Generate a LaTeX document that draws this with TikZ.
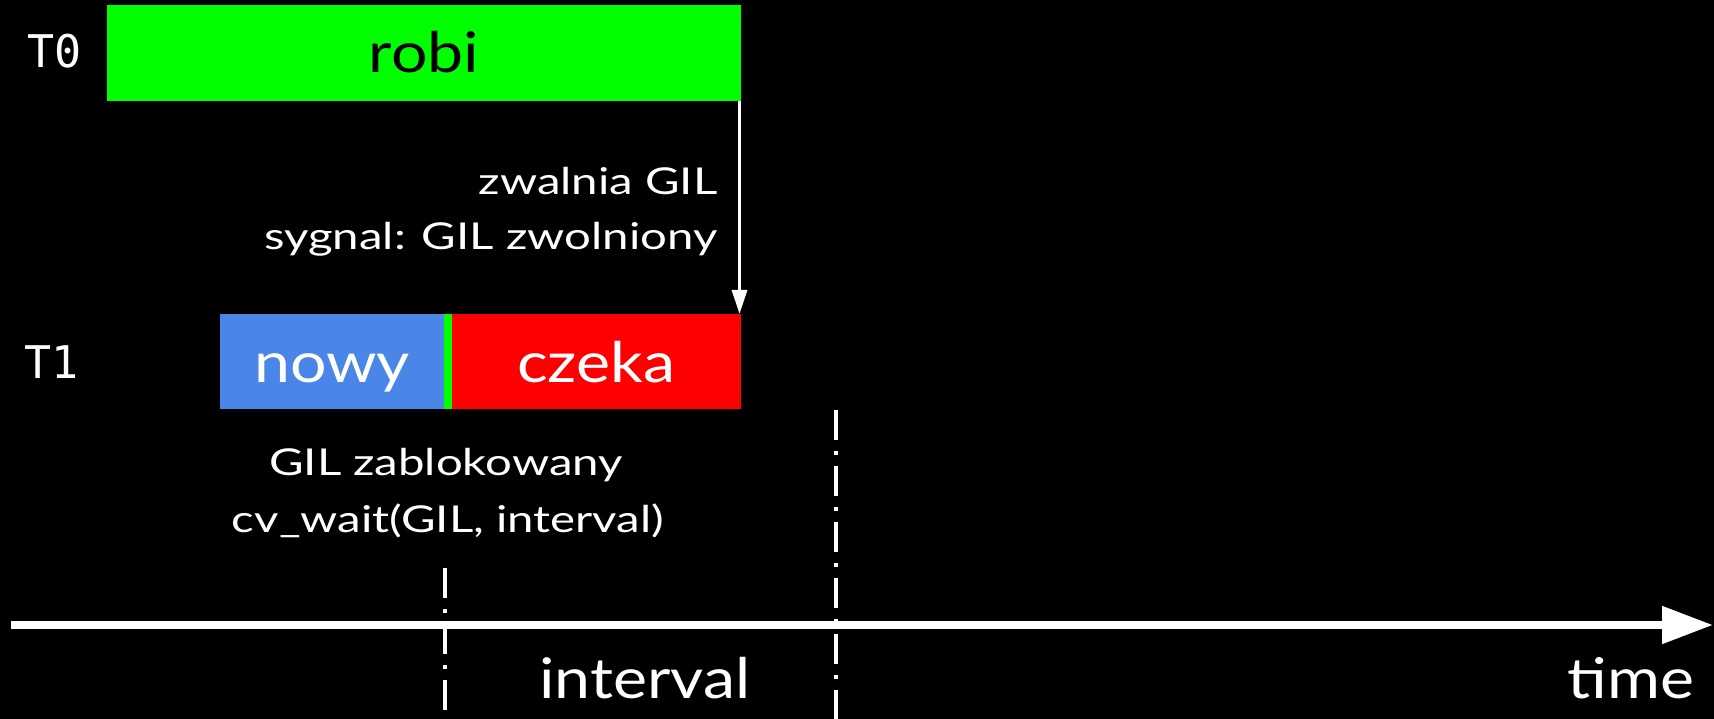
\documentclass[tikz,border=0pt]{standalone}
\usepackage{fontspec}
\setmainfont{Lato}[FakeStretch=1.15]
\newfontfamily\smallf{Lato}[FakeStretch=1.28]
\newfontfamily\monof{DejaVu Sans Mono}
\usetikzlibrary{arrows.meta}
\definecolor{gbox}{HTML}{00FF00}
\definecolor{bbox}{HTML}{4A86E8}
\definecolor{rbox}{HTML}{FF0000}
\tikzset{
  bar/.style={draw=none, inner sep=0pt, outer sep=0pt},
  big/.style={font=\fontsize{56}{66}\selectfont, anchor=base},
  small/.style={font=\smallf\fontsize{37}{44}\selectfont, text=white, anchor=base},
  tlabel/.style={font=\monof\fontsize{45}{54}\selectfont, text=white, anchor=base},
  marker/.style={white, line width=4pt, dash pattern=on 30pt off 11pt on 4pt off 11pt},
}
\begin{document}
\begin{tikzpicture}[x=1pt,y=-1pt]
\fill[black] (0,0) rectangle (1714,719);
\useasboundingbox (0,0) rectangle (1714,719);
% thread labels
\node[tlabel] (t0) at (55,68) {T0};
\node[tlabel] (t1) at (52,378) {T1};
% bars
\node[bar, fill=gbox, minimum width=634pt, minimum height=96pt] (robi) at (424,53) {};
\node[big, text=black] (robit) at (424,73) {robi};
\node[bar, fill=bbox, minimum width=224pt, minimum height=95pt] (nowy) at (332,361.5) {};
\node[big, text=white] (nowyt) at (332,382) {nowy};
\node[bar, fill=gbox, minimum width=8pt, minimum height=95pt] (strip) at (448,361.5) {};
\node[bar, fill=rbox, minimum width=289pt, minimum height=95pt] (czeka) at (596.5,361.5) {};
\node[big, text=white] (czekat) at (596,382) {czeka};
% signal arrow
\draw[white, line width=3pt, -{Triangle[width=15pt,length=24pt]}] ([xshift=-1.5pt]robi.south east) -- ([xshift=-1.5pt]czeka.north east);
\node[small, anchor=base east] (zw) at (721,195) {zwalnia GIL};
\node[small, anchor=base east] (syg) at (721,250) {sygnal: GIL zwolniony};
% GIL texts
\node[small] (zab) at (446,475) {GIL zablokowany};
\node[small] (cv) at (448,532) {cv\_wait(GIL, interval)};
% markers
\coordinate (m1a) at (445,568);
\coordinate (m1b) at (445,719);
\coordinate (m2a) at (836,410);
\coordinate (m2b) at (836,719);
\draw[marker] (m1a) -- (m1b);
\draw[marker] (m2a) -- (m2b);
% time axis
\coordinate (ax0) at (11,625);
\coordinate (ax1) at (1713,625);
\draw[white, line width=8pt, -{Triangle[width=36pt,length=51pt]}] (ax0) -- (ax1);
\node[big, text=white] (interval) at (645,698) {interval};
\node[big, text=white] (time) at (1631,698) {time};
\end{tikzpicture}
\end{document}
